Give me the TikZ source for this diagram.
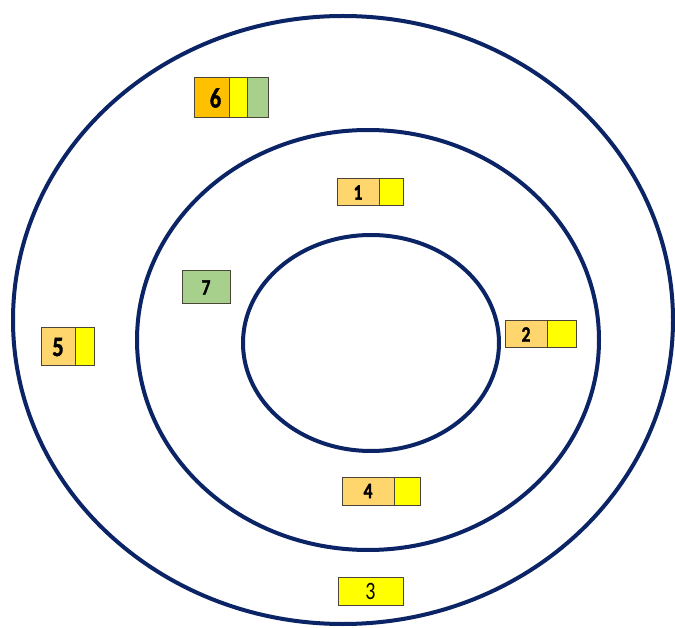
\documentclass[tikz,border=0pt]{standalone}
\usepackage{fontspec}
\usepackage{graphicx}
\setmainfont{Carlito}
\newfontfamily\heavynum[FakeBold=1.6]{Carlito Bold}
% narrow, tall digits for the cell labels
\newcommand\narrownum[1]{\scalebox{0.8}[1]{#1}}
\definecolor{ringblue}{HTML}{0B2466}
\definecolor{paleorange}{HTML}{FFD56E}
\definecolor{brightyellow}{HTML}{FFFF00}
\definecolor{softgreen}{HTML}{A8D08D}
\definecolor{amber}{HTML}{FFC000}
\definecolor{cellline}{HTML}{4A4538}
\begin{document}
\begin{tikzpicture}[x=1pt,y=-1pt,
  ring/.style={draw=ringblue, line width=4pt},
  cell/.style={draw=cellline, line width=1pt, inner sep=0pt, outer sep=0pt,
    anchor=north west, font=\heavynum\fontsize{22}{26}\selectfont},
  big/.style={font=\heavynum\fontsize{28}{32}\selectfont},
  plain/.style={font=\fontsize{25}{28}\selectfont},
  ]
\useasboundingbox (0,0) rectangle (675,628);
\fill[white] (0,0) rectangle (675,628);

% three nested rings
\draw[ring] (343,320) ellipse [x radius=330, y radius=304];
\draw[ring] (368,340) ellipse [x radius=231, y radius=210];
\draw[ring] (371,343) ellipse [x radius=128, y radius=108];

% box 1
\node[cell, fill=paleorange, minimum width=42pt, minimum height=27pt] (b1a) at (337,179) {\narrownum{1}};
\node[cell, fill=brightyellow, minimum width=24pt, minimum height=27pt] (b1b) at (b1a.north east) {};
% box 2
\node[cell, fill=paleorange, minimum width=42pt, minimum height=27pt] (b2a) at (505,321) {\narrownum{2}};
\node[cell, fill=brightyellow, minimum width=29pt, minimum height=27pt] (b2b) at (b2a.north east) {};
% box 3
\node[cell, plain, fill=brightyellow, minimum width=65pt, minimum height=28pt] (b3) at (338,577) {\narrownum{3}};
% box 4
\node[cell, fill=paleorange, minimum width=52pt, minimum height=28pt] (b4a) at (342,477) {\narrownum{4}};
\node[cell, fill=brightyellow, minimum width=26pt, minimum height=28pt] (b4b) at (b4a.north east) {};
% box 5
\node[cell, big, fill=paleorange, minimum width=34pt, minimum height=38pt] (b5a) at (41,328) {\narrownum{5}};
\node[cell, fill=brightyellow, minimum width=19pt, minimum height=38pt] (b5b) at (b5a.north east) {};
% box 6
\node[cell, big, fill=amber, minimum width=35pt, minimum height=40pt] (b6a) at (194,78) {\hspace*{8pt}\narrownum{6}};
\node[cell, fill=brightyellow, minimum width=18pt, minimum height=40pt] (b6b) at (b6a.north east) {};
\node[cell, fill=softgreen, minimum width=21pt, minimum height=40pt] (b6c) at (b6b.north east) {};
% box 7
\node[cell, fill=softgreen, minimum width=48pt, minimum height=33pt] (b7) at (182,271) {\narrownum{7}};
\end{tikzpicture}
\end{document}
